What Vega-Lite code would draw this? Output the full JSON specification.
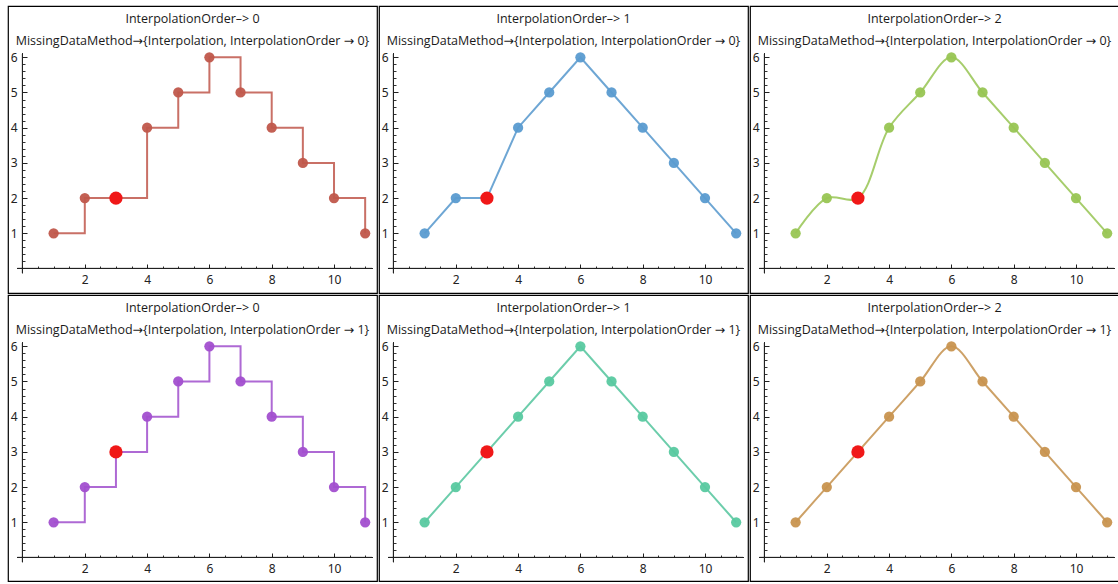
{
  "$schema": "https://vega.github.io/schema/vega-lite/v6.json",
  "padding": {"left": 7, "top": 5, "right": 2, "bottom": 2},
  "background": "white",
  "datasets": {
    "top": [
      {"x": 1, "y": 1, "filled": false}, {"x": 2, "y": 2, "filled": false}, {"x": 3, "y": 2, "filled": true},
      {"x": 4, "y": 4, "filled": false}, {"x": 5, "y": 5, "filled": false}, {"x": 6, "y": 6, "filled": false},
      {"x": 7, "y": 5, "filled": false}, {"x": 8, "y": 4, "filled": false}, {"x": 9, "y": 3, "filled": false},
      {"x": 10, "y": 2, "filled": false}, {"x": 11, "y": 1, "filled": false}
    ],
    "bottom": [
      {"x": 1, "y": 1, "filled": false}, {"x": 2, "y": 2, "filled": false}, {"x": 3, "y": 3, "filled": true},
      {"x": 4, "y": 4, "filled": false}, {"x": 5, "y": 5, "filled": false}, {"x": 6, "y": 6, "filled": false},
      {"x": 7, "y": 5, "filled": false}, {"x": 8, "y": 4, "filled": false}, {"x": 9, "y": 3, "filled": false},
      {"x": 10, "y": 2, "filled": false}, {"x": 11, "y": 1, "filled": false}
    ]
  },
  "vconcat": [
    {"hconcat": [
      {"width": 369, "height": 287, "data": {"name": "top"},
       "title": {"text": ["InterpolationOrder–> 0", "MissingDataMethod→{Interpolation, InterpolationOrder → 0}"]},
       "resolve": {"axis": {"x": "independent", "y": "independent"}},
       "layer": [
        {"mark": {"type": "point", "opacity": 0}, "encoding": {
          "x": {"field": "x", "type": "quantitative", "scale": {"domain": [-0.465, 11.38], "nice": false, "zero": false}, "axis": {"orient": "bottom", "values": [0.5,1,1.5,2.5,3,3.5,4.5,5,5.5,6.5,7,7.5,8.5,9,9.5,10.5,11], "labels": false, "domain": false, "grid": false, "tickSize": -2.5, "offset": -24.5, "title": null, "tickColor": "#333"}},
          "y": {"field": "y", "type": "quantitative", "scale": {"domain": [-0.696, 7.457], "nice": false, "zero": false}, "axis": {"orient": "left", "values": [0.2,0.4,0.6,0.8,1.2,1.4,1.6,1.8,2.2,2.4,2.6,2.8,3.2,3.4,3.6,3.8,4.2,4.4,4.6,4.8,5.2,5.4,5.6,5.8], "labels": false, "domain": false, "grid": false, "tickSize": -2.5, "offset": -14.5, "title": null, "tickColor": "#333"}}}},
        {"mark": {"type": "line", "interpolate": "step-after", "color": "#c0574b", "strokeWidth": 2, "opacity": 0.85}, "encoding": {
          "x": {"field": "x", "type": "quantitative", "axis": {"orient": "bottom", "values": [2,4,6,8,10], "domain": false, "grid": false, "tickSize": -4.5, "offset": -24.5, "title": null}},
          "y": {"field": "y", "type": "quantitative", "axis": {"orient": "left", "values": [1,2,3,4,5,6], "domain": false, "grid": false, "tickSize": -4.5, "offset": -14.5, "title": null}}}},
        {"transform": [{"filter": "!datum.filled"}], "mark": {"type": "circle", "size": 105, "opacity": 0.95, "color": "#c0574b"}, "encoding": {
          "x": {"field": "x", "type": "quantitative", "axis": null}, "y": {"field": "y", "type": "quantitative", "axis": null}}},
        {"transform": [{"filter": "datum.filled"}], "mark": {"type": "circle", "size": 175, "opacity": 1, "color": "#f01818"}, "encoding": {
          "x": {"field": "x", "type": "quantitative", "axis": null}, "y": {"field": "y", "type": "quantitative", "axis": null}}},
        {"mark": {"type": "rule", "color": "#222", "strokeWidth": 1}, "encoding": {
          "x": {"datum": 0, "type": "quantitative", "axis": null}, "y": {"datum": -0.13, "type": "quantitative", "axis": null}, "y2": {"datum": 6.1}}},
        {"mark": {"type": "rule", "color": "#222", "strokeWidth": 1}, "encoding": {
          "y": {"datum": 0, "type": "quantitative", "axis": null}, "x": {"datum": -0.17, "type": "quantitative", "axis": null}, "x2": {"datum": 11.23}}}
       ]},
      {"width": 369, "height": 287, "data": {"name": "top"},
       "title": {"text": ["InterpolationOrder–> 1", "MissingDataMethod→{Interpolation, InterpolationOrder → 0}"]},
       "resolve": {"axis": {"x": "independent", "y": "independent"}},
       "layer": [
        {"mark": {"type": "point", "opacity": 0}, "encoding": {
          "x": {"field": "x", "type": "quantitative", "scale": {"domain": [-0.465, 11.38], "nice": false, "zero": false}, "axis": {"orient": "bottom", "values": [0.5,1,1.5,2.5,3,3.5,4.5,5,5.5,6.5,7,7.5,8.5,9,9.5,10.5,11], "labels": false, "domain": false, "grid": false, "tickSize": -2.5, "offset": -24.5, "title": null, "tickColor": "#333"}},
          "y": {"field": "y", "type": "quantitative", "scale": {"domain": [-0.696, 7.457], "nice": false, "zero": false}, "axis": {"orient": "left", "values": [0.2,0.4,0.6,0.8,1.2,1.4,1.6,1.8,2.2,2.4,2.6,2.8,3.2,3.4,3.6,3.8,4.2,4.4,4.6,4.8,5.2,5.4,5.6,5.8], "labels": false, "domain": false, "grid": false, "tickSize": -2.5, "offset": -14.5, "title": null, "tickColor": "#333"}}}},
        {"mark": {"type": "line", "interpolate": "linear", "color": "#5596cc", "strokeWidth": 2, "opacity": 0.85}, "encoding": {
          "x": {"field": "x", "type": "quantitative", "axis": {"orient": "bottom", "values": [2,4,6,8,10], "domain": false, "grid": false, "tickSize": -4.5, "offset": -24.5, "title": null}},
          "y": {"field": "y", "type": "quantitative", "axis": {"orient": "left", "values": [1,2,3,4,5,6], "domain": false, "grid": false, "tickSize": -4.5, "offset": -14.5, "title": null}}}},
        {"transform": [{"filter": "!datum.filled"}], "mark": {"type": "circle", "size": 105, "opacity": 0.95, "color": "#5a9bd0"}, "encoding": {
          "x": {"field": "x", "type": "quantitative", "axis": null}, "y": {"field": "y", "type": "quantitative", "axis": null}}},
        {"transform": [{"filter": "datum.filled"}], "mark": {"type": "circle", "size": 175, "opacity": 1, "color": "#f01818"}, "encoding": {
          "x": {"field": "x", "type": "quantitative", "axis": null}, "y": {"field": "y", "type": "quantitative", "axis": null}}},
        {"mark": {"type": "rule", "color": "#222", "strokeWidth": 1}, "encoding": {
          "x": {"datum": 0, "type": "quantitative", "axis": null}, "y": {"datum": -0.13, "type": "quantitative", "axis": null}, "y2": {"datum": 6.1}}},
        {"mark": {"type": "rule", "color": "#222", "strokeWidth": 1}, "encoding": {
          "y": {"datum": 0, "type": "quantitative", "axis": null}, "x": {"datum": -0.17, "type": "quantitative", "axis": null}, "x2": {"datum": 11.23}}}
       ]},
      {"width": 369, "height": 287, "data": {"name": "top"},
       "title": {"text": ["InterpolationOrder–> 2", "MissingDataMethod→{Interpolation, InterpolationOrder → 0}"]},
       "resolve": {"axis": {"x": "independent", "y": "independent"}},
       "layer": [
        {"mark": {"type": "point", "opacity": 0}, "encoding": {
          "x": {"field": "x", "type": "quantitative", "scale": {"domain": [-0.465, 11.38], "nice": false, "zero": false}, "axis": {"orient": "bottom", "values": [0.5,1,1.5,2.5,3,3.5,4.5,5,5.5,6.5,7,7.5,8.5,9,9.5,10.5,11], "labels": false, "domain": false, "grid": false, "tickSize": -2.5, "offset": -24.5, "title": null, "tickColor": "#333"}},
          "y": {"field": "y", "type": "quantitative", "scale": {"domain": [-0.696, 7.457], "nice": false, "zero": false}, "axis": {"orient": "left", "values": [0.2,0.4,0.6,0.8,1.2,1.4,1.6,1.8,2.2,2.4,2.6,2.8,3.2,3.4,3.6,3.8,4.2,4.4,4.6,4.8,5.2,5.4,5.6,5.8], "labels": false, "domain": false, "grid": false, "tickSize": -2.5, "offset": -14.5, "title": null, "tickColor": "#333"}}}},
        {"mark": {"type": "line", "interpolate": "catmull-rom", "color": "#97c452", "strokeWidth": 2, "opacity": 0.85}, "encoding": {
          "x": {"field": "x", "type": "quantitative", "axis": {"orient": "bottom", "values": [2,4,6,8,10], "domain": false, "grid": false, "tickSize": -4.5, "offset": -24.5, "title": null}},
          "y": {"field": "y", "type": "quantitative", "axis": {"orient": "left", "values": [1,2,3,4,5,6], "domain": false, "grid": false, "tickSize": -4.5, "offset": -14.5, "title": null}}}},
        {"transform": [{"filter": "!datum.filled"}], "mark": {"type": "circle", "size": 105, "opacity": 0.95, "color": "#98c553"}, "encoding": {
          "x": {"field": "x", "type": "quantitative", "axis": null}, "y": {"field": "y", "type": "quantitative", "axis": null}}},
        {"transform": [{"filter": "datum.filled"}], "mark": {"type": "circle", "size": 175, "opacity": 1, "color": "#f01818"}, "encoding": {
          "x": {"field": "x", "type": "quantitative", "axis": null}, "y": {"field": "y", "type": "quantitative", "axis": null}}},
        {"mark": {"type": "rule", "color": "#222", "strokeWidth": 1}, "encoding": {
          "x": {"datum": 0, "type": "quantitative", "axis": null}, "y": {"datum": -0.13, "type": "quantitative", "axis": null}, "y2": {"datum": 6.1}}},
        {"mark": {"type": "rule", "color": "#222", "strokeWidth": 1}, "encoding": {
          "y": {"datum": 0, "type": "quantitative", "axis": null}, "x": {"datum": -0.17, "type": "quantitative", "axis": null}, "x2": {"datum": 11.23}}}
       ]}
    ]},
    {"hconcat": [
      {"width": 369, "height": 286, "data": {"name": "bottom"},
       "title": {"text": ["InterpolationOrder–> 0", "MissingDataMethod→{Interpolation, InterpolationOrder → 1}"]},
       "resolve": {"axis": {"x": "independent", "y": "independent"}},
       "layer": [
        {"mark": {"type": "point", "opacity": 0}, "encoding": {
          "x": {"field": "x", "type": "quantitative", "scale": {"domain": [-0.465, 11.38], "nice": false, "zero": false}, "axis": {"orient": "bottom", "values": [0.5,1,1.5,2.5,3,3.5,4.5,5,5.5,6.5,7,7.5,8.5,9,9.5,10.5,11], "labels": false, "domain": false, "grid": false, "tickSize": -2.5, "offset": -23.5, "title": null, "tickColor": "#333"}},
          "y": {"field": "y", "type": "quantitative", "scale": {"domain": [-0.668, 7.457], "nice": false, "zero": false}, "axis": {"orient": "left", "values": [0.2,0.4,0.6,0.8,1.2,1.4,1.6,1.8,2.2,2.4,2.6,2.8,3.2,3.4,3.6,3.8,4.2,4.4,4.6,4.8,5.2,5.4,5.6,5.8], "labels": false, "domain": false, "grid": false, "tickSize": -2.5, "offset": -14.5, "title": null, "tickColor": "#333"}}}},
        {"mark": {"type": "line", "interpolate": "step-after", "color": "#a04fcc", "strokeWidth": 2, "opacity": 0.85}, "encoding": {
          "x": {"field": "x", "type": "quantitative", "axis": {"orient": "bottom", "values": [2,4,6,8,10], "domain": false, "grid": false, "tickSize": -4.5, "offset": -23.5, "title": null}},
          "y": {"field": "y", "type": "quantitative", "axis": {"orient": "left", "values": [1,2,3,4,5,6], "domain": false, "grid": false, "tickSize": -4.5, "offset": -14.5, "title": null}}}},
        {"transform": [{"filter": "!datum.filled"}], "mark": {"type": "circle", "size": 105, "opacity": 0.95, "color": "#a24fcf"}, "encoding": {
          "x": {"field": "x", "type": "quantitative", "axis": null}, "y": {"field": "y", "type": "quantitative", "axis": null}}},
        {"transform": [{"filter": "datum.filled"}], "mark": {"type": "circle", "size": 175, "opacity": 1, "color": "#f01818"}, "encoding": {
          "x": {"field": "x", "type": "quantitative", "axis": null}, "y": {"field": "y", "type": "quantitative", "axis": null}}},
        {"mark": {"type": "rule", "color": "#222", "strokeWidth": 1}, "encoding": {
          "x": {"datum": 0, "type": "quantitative", "axis": null}, "y": {"datum": -0.13, "type": "quantitative", "axis": null}, "y2": {"datum": 6.1}}},
        {"mark": {"type": "rule", "color": "#222", "strokeWidth": 1}, "encoding": {
          "y": {"datum": 0, "type": "quantitative", "axis": null}, "x": {"datum": -0.17, "type": "quantitative", "axis": null}, "x2": {"datum": 11.23}}}
       ]},
      {"width": 369, "height": 286, "data": {"name": "bottom"},
       "title": {"text": ["InterpolationOrder–> 1", "MissingDataMethod→{Interpolation, InterpolationOrder → 1}"]},
       "resolve": {"axis": {"x": "independent", "y": "independent"}},
       "layer": [
        {"mark": {"type": "point", "opacity": 0}, "encoding": {
          "x": {"field": "x", "type": "quantitative", "scale": {"domain": [-0.465, 11.38], "nice": false, "zero": false}, "axis": {"orient": "bottom", "values": [0.5,1,1.5,2.5,3,3.5,4.5,5,5.5,6.5,7,7.5,8.5,9,9.5,10.5,11], "labels": false, "domain": false, "grid": false, "tickSize": -2.5, "offset": -23.5, "title": null, "tickColor": "#333"}},
          "y": {"field": "y", "type": "quantitative", "scale": {"domain": [-0.668, 7.457], "nice": false, "zero": false}, "axis": {"orient": "left", "values": [0.2,0.4,0.6,0.8,1.2,1.4,1.6,1.8,2.2,2.4,2.6,2.8,3.2,3.4,3.6,3.8,4.2,4.4,4.6,4.8,5.2,5.4,5.6,5.8], "labels": false, "domain": false, "grid": false, "tickSize": -2.5, "offset": -14.5, "title": null, "tickColor": "#333"}}}},
        {"mark": {"type": "line", "interpolate": "linear", "color": "#52c49c", "strokeWidth": 2, "opacity": 0.85}, "encoding": {
          "x": {"field": "x", "type": "quantitative", "axis": {"orient": "bottom", "values": [2,4,6,8,10], "domain": false, "grid": false, "tickSize": -4.5, "offset": -23.5, "title": null}},
          "y": {"field": "y", "type": "quantitative", "axis": {"orient": "left", "values": [1,2,3,4,5,6], "domain": false, "grid": false, "tickSize": -4.5, "offset": -14.5, "title": null}}}},
        {"transform": [{"filter": "!datum.filled"}], "mark": {"type": "circle", "size": 105, "opacity": 0.95, "color": "#58c9a0"}, "encoding": {
          "x": {"field": "x", "type": "quantitative", "axis": null}, "y": {"field": "y", "type": "quantitative", "axis": null}}},
        {"transform": [{"filter": "datum.filled"}], "mark": {"type": "circle", "size": 175, "opacity": 1, "color": "#f01818"}, "encoding": {
          "x": {"field": "x", "type": "quantitative", "axis": null}, "y": {"field": "y", "type": "quantitative", "axis": null}}},
        {"mark": {"type": "rule", "color": "#222", "strokeWidth": 1}, "encoding": {
          "x": {"datum": 0, "type": "quantitative", "axis": null}, "y": {"datum": -0.13, "type": "quantitative", "axis": null}, "y2": {"datum": 6.1}}},
        {"mark": {"type": "rule", "color": "#222", "strokeWidth": 1}, "encoding": {
          "y": {"datum": 0, "type": "quantitative", "axis": null}, "x": {"datum": -0.17, "type": "quantitative", "axis": null}, "x2": {"datum": 11.23}}}
       ]},
      {"width": 369, "height": 286, "data": {"name": "bottom"},
       "title": {"text": ["InterpolationOrder–> 2", "MissingDataMethod→{Interpolation, InterpolationOrder → 1}"]},
       "resolve": {"axis": {"x": "independent", "y": "independent"}},
       "layer": [
        {"mark": {"type": "point", "opacity": 0}, "encoding": {
          "x": {"field": "x", "type": "quantitative", "scale": {"domain": [-0.465, 11.38], "nice": false, "zero": false}, "axis": {"orient": "bottom", "values": [0.5,1,1.5,2.5,3,3.5,4.5,5,5.5,6.5,7,7.5,8.5,9,9.5,10.5,11], "labels": false, "domain": false, "grid": false, "tickSize": -2.5, "offset": -23.5, "title": null, "tickColor": "#333"}},
          "y": {"field": "y", "type": "quantitative", "scale": {"domain": [-0.668, 7.457], "nice": false, "zero": false}, "axis": {"orient": "left", "values": [0.2,0.4,0.6,0.8,1.2,1.4,1.6,1.8,2.2,2.4,2.6,2.8,3.2,3.4,3.6,3.8,4.2,4.4,4.6,4.8,5.2,5.4,5.6,5.8], "labels": false, "domain": false, "grid": false, "tickSize": -2.5, "offset": -14.5, "title": null, "tickColor": "#333"}}}},
        {"mark": {"type": "line", "interpolate": "catmull-rom", "color": "#c4914c", "strokeWidth": 2, "opacity": 0.85}, "encoding": {
          "x": {"field": "x", "type": "quantitative", "axis": {"orient": "bottom", "values": [2,4,6,8,10], "domain": false, "grid": false, "tickSize": -4.5, "offset": -23.5, "title": null}},
          "y": {"field": "y", "type": "quantitative", "axis": {"orient": "left", "values": [1,2,3,4,5,6], "domain": false, "grid": false, "tickSize": -4.5, "offset": -14.5, "title": null}}}},
        {"transform": [{"filter": "!datum.filled"}], "mark": {"type": "circle", "size": 105, "opacity": 0.95, "color": "#c8944f"}, "encoding": {
          "x": {"field": "x", "type": "quantitative", "axis": null}, "y": {"field": "y", "type": "quantitative", "axis": null}}},
        {"transform": [{"filter": "datum.filled"}], "mark": {"type": "circle", "size": 175, "opacity": 1, "color": "#f01818"}, "encoding": {
          "x": {"field": "x", "type": "quantitative", "axis": null}, "y": {"field": "y", "type": "quantitative", "axis": null}}},
        {"mark": {"type": "rule", "color": "#222", "strokeWidth": 1}, "encoding": {
          "x": {"datum": 0, "type": "quantitative", "axis": null}, "y": {"datum": -0.13, "type": "quantitative", "axis": null}, "y2": {"datum": 6.1}}},
        {"mark": {"type": "rule", "color": "#222", "strokeWidth": 1}, "encoding": {
          "y": {"datum": 0, "type": "quantitative", "axis": null}, "x": {"datum": -0.17, "type": "quantitative", "axis": null}, "x2": {"datum": 11.23}}}
       ]}
    ]}
  ],
  "config": {
    "concat": {"spacing": 0},
    "view": {"stroke": "#000", "strokeWidth": 1.2},
    "title": {"font": "Open Sans, DejaVu Sans", "fontSize": 12.5, "fontWeight": "normal", "color": "#1a1a1a", "anchor": "middle", "offset": -41, "baseline": "top", "lineHeight": 22},
    "axis": {"labelFont": "Noto Sans", "labelFontSize": 12, "labelColor": "#222", "tickColor": "#222", "labelPadding": 10, "labelFlush": false, "labelOverlap": false}
  }
}
